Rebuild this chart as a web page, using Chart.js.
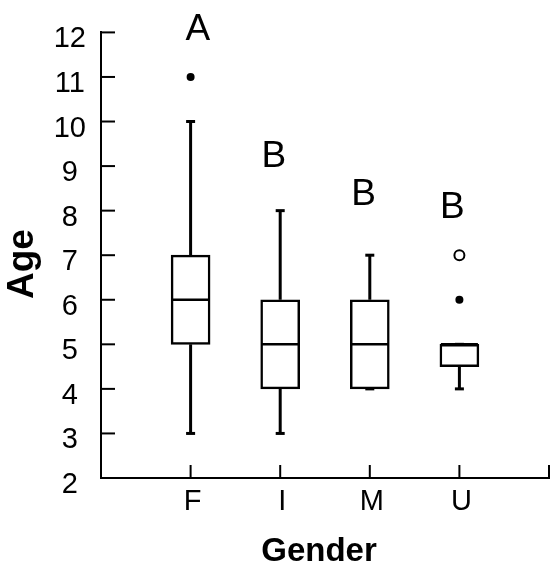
<!DOCTYPE html>
<html>
<head>
<meta charset="utf-8">
<script src="https://cdn.jsdelivr.net/npm/chart.js@4.4.0/dist/chart.umd.min.js"></script>
<style>
  html, body { margin: 0; padding: 0; background: #fff; }
  #wrap { width: 556px; height: 581px; position: relative; }
</style>
</head>
<body>
<div id="wrap"><canvas id="c"></canvas></div>
<script>
// ---- data ----
const categories   = ['F', 'I', 'M', 'U'];
const whiskerLow   = [3, 3, 4, 4];
const q1           = [5, 4, 4, 4.5];
const median       = [6, 5, 5, 5];
const q3           = [7, 6, 6, 5];
const whiskerHigh  = [10, 8, 7, 5];
const extremeCat   = ['F', 'U'];      // filled dots
const extremeVal   = [11, 6];
const outlierCat   = ['U'];           // open circles
const outlierVal   = [7];
const groupLetters = ['A', 'B', 'B', 'B'];
const letterVal    = [12.06, 9.2, 8.36, 8.06];
const letterShift  = [0.08, -0.07, -0.07, -0.08];
const yTicks       = [2, 3, 4, 5, 6, 7, 8, 9, 10, 11, 12];
const xTitle = 'Gender';
const yTitle = 'Age';

const FONT = '"Liberation Sans", Arial, Helvetica, sans-serif';
const catX = c => categories.indexOf(c) + 1;

const boxPlugin = {
  id: 'boxParts',
  beforeDatasetsDraw(chart) {
    const { ctx, scales: { x, y } } = chart;
    ctx.save();
    ctx.strokeStyle = '#000';
    ctx.lineWidth = 3;
    const capHalf = 4.5;
    categories.forEach((c, i) => {
      const px = x.getPixelForValue(i + 1);
      const segs = [[q3[i], whiskerHigh[i]], [q1[i], whiskerLow[i]]];
      segs.forEach(([a, b]) => {
        if (a === b) return;
        ctx.beginPath();
        ctx.moveTo(px, y.getPixelForValue(a));
        ctx.lineTo(px, y.getPixelForValue(b));
        ctx.stroke();
      });
      [whiskerHigh[i], whiskerLow[i]].forEach(v => {
        const py = y.getPixelForValue(v);
        ctx.beginPath();
        ctx.moveTo(px - capHalf, py);
        ctx.lineTo(px + capHalf, py);
        ctx.stroke();
      });
    });
    ctx.restore();
  },
  afterDatasetsDraw(chart) {
    const { ctx, scales: { x, y } } = chart;
    ctx.save();
    ctx.strokeStyle = '#000';
    ctx.lineWidth = 2.5;
    const half = 19.5;
    categories.forEach((c, i) => {
      const px = x.getPixelForValue(i + 1);
      const py = y.getPixelForValue(median[i]);
      ctx.beginPath();
      ctx.moveTo(px - half + 1, py);
      ctx.lineTo(px + half - 1, py);
      ctx.stroke();
    });
    ctx.restore();
  },
  afterDraw(chart) {
    const { ctx, scales: { x, y } } = chart;
    ctx.save();
    ctx.strokeStyle = '#000';
    ctx.lineWidth = 2;
    // y tick marks pointing inward
    const x0 = x.getPixelForValue(0);
    yTicks.forEach(v => {
      const py = y.getPixelForValue(v);
      ctx.beginPath();
      ctx.moveTo(x0, py);
      ctx.lineTo(x0 + 14, py);
      ctx.stroke();
    });
    // x tick marks pointing upward
    const y0 = y.getPixelForValue(2);
    [1, 2, 3, 4, 5].forEach(v => {
      const px = x.getPixelForValue(v);
      ctx.beginPath();
      ctx.moveTo(px, y0);
      ctx.lineTo(px, y0 - 13);
      ctx.stroke();
    });
    // group letters
    ctx.fillStyle = '#000';
    ctx.font = '37px ' + FONT;
    ctx.textAlign = 'center';
    ctx.textBaseline = 'middle';
    groupLetters.forEach((t, i) => {
      ctx.fillText(t, x.getPixelForValue(i + 1 + letterShift[i]), y.getPixelForValue(letterVal[i]));
    });
    // axis titles
    ctx.font = 'bold 33px ' + FONT;
    ctx.fillText(xTitle, 319, 552);
    ctx.save();
    ctx.translate(23, 264);
    ctx.rotate(-Math.PI / 2);
    ctx.font = 'bold 37px ' + FONT;
    ctx.fillText(yTitle, 0, 0);
    ctx.restore();
    ctx.restore();
  }
};

new Chart(document.getElementById('c'), {
  type: 'bar',
  data: {
    datasets: [
      {
        type: 'bar',
        data: categories.map((c, i) => ({ x: i + 1, y: [q1[i], q3[i]] })),
        backgroundColor: '#fff',
        borderColor: '#000',
        borderWidth: 2.5,
        borderSkipped: false,
        barThickness: 39,
        grouped: false,
        order: 2
      },
      {
        type: 'scatter',
        data: extremeCat.map((c, i) => ({ x: catX(c), y: extremeVal[i] })),
        pointRadius: 4,
        pointBackgroundColor: '#000',
        pointBorderColor: '#000',
        pointBorderWidth: 0,
        order: 1
      },
      {
        type: 'scatter',
        data: outlierCat.map((c, i) => ({ x: catX(c), y: outlierVal[i] })),
        pointRadius: 5,
        pointBackgroundColor: '#fff',
        pointBorderColor: '#000',
        pointBorderWidth: 2,
        order: 1
      }
    ]
  },
  options: {
    responsive: true,
    maintainAspectRatio: false,
    animation: false,
    devicePixelRatio: 1,
    layout: { padding: { top: 32, right: 7, left: 0, bottom: 0 } },
    plugins: { legend: { display: false }, tooltip: { enabled: false } },
    scales: {
      x: {
        type: 'linear',
        offset: false,
        min: 0, max: 5,
        afterBuildTicks: s => { s.ticks = categories.map((c, i) => ({ value: i + 1 })); },
        afterFit: s => { s.height = 103; },
        ticks: {
          callback: v => categories[v - 1],
          font: { family: FONT, size: 29 },
          color: '#000',
          padding: 7,
          maxRotation: 0,
          autoSkip: false,
          labelOffset: 2
        },
        grid: { display: false, drawTicks: false, offset: false },
        border: { display: true, color: '#000', width: 2 }
      },
      y: {
        type: 'linear',
        min: 2, max: 12,
        afterBuildTicks: s => { s.ticks = yTicks.map(v => ({ value: v })); },
        afterFit: s => { s.width = 101; },
        ticks: {
          font: { family: FONT, size: 29 },
          color: '#000',
          crossAlign: 'center',
          padding: 15,
          labelOffset: 7
        },
        grid: { display: false, drawTicks: false },
        border: { display: true, color: '#000', width: 2 }
      }
    }
  },
  plugins: [boxPlugin]
});
</script>
</body>
</html>
